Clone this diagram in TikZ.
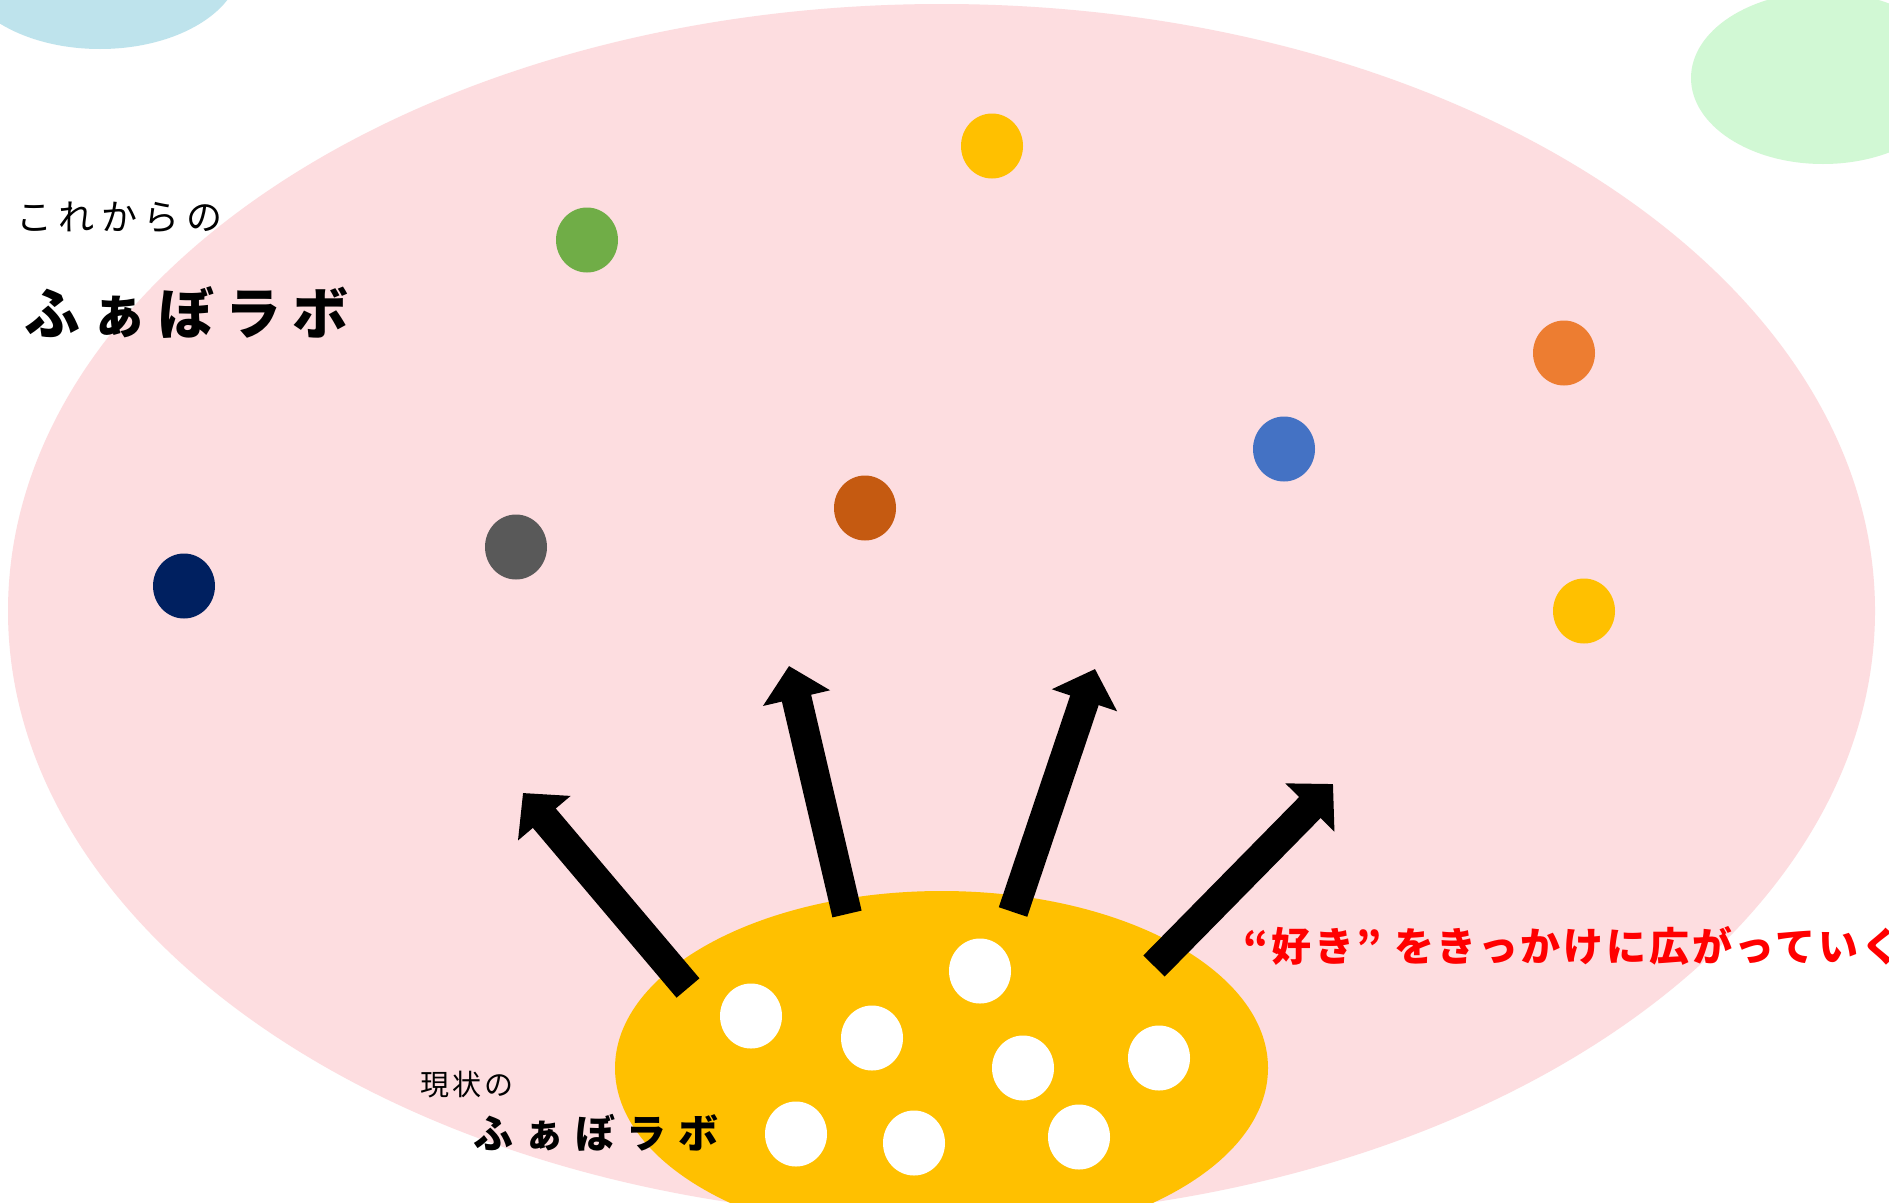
\documentclass[tikz,border=0pt]{standalone}
\usepackage{fontspec}
\newfontfamily\jp{Noto Sans CJK JP}
\usetikzlibrary{arrows.meta,shapes.geometric}
\definecolor{pinkbg}{HTML}{FDDDE0}
\definecolor{bluebg}{HTML}{BEE3EC}
\definecolor{greenbg}{HTML}{D1F8D4}
\definecolor{gold}{HTML}{FFC000}
\definecolor{leaf}{HTML}{70AD47}
\definecolor{orng}{HTML}{ED7D31}
\definecolor{sky}{HTML}{4472C4}
\definecolor{rust}{HTML}{C55A11}
\definecolor{slate}{HTML}{595959}
\definecolor{navy}{HTML}{002060}
\definecolor{redtxt}{HTML}{FF0000}
\begin{document}
\begin{tikzpicture}[x=1pt,y=-1pt,
  blob/.style={ellipse,draw=none,inner sep=0pt},
  dot/.style={blob,minimum width=62pt,minimum height=65pt},
  wdot/.style={dot,fill=white},
  bigarrow/.style={line width=30pt,-{Triangle[width=67pt,length=33pt]}},
  label/.style={anchor=west,inner sep=0pt,font=\jp}]
\useasboundingbox (0,0) rectangle (1889,1202);
\clip (0,0) rectangle (1889,1202);
\fill[white] (0,0) rectangle (1889,1202);
% background blobs
\node[blob,fill=bluebg,minimum width=282pt,minimum height=172pt] (blue) at (100,-37) {};
\node[blob,fill=greenbg,minimum width=264pt,minimum height=172pt] (green) at (1823,78) {};
\node[blob,fill=pinkbg,minimum width=1867pt,minimum height=1214pt] (future) at (941.5,611) {};
% coloured dots
\node[dot,fill=gold] (d1) at (992,146) {};
\node[dot,fill=leaf] (d2) at (587,240) {};
\node[dot,fill=orng] (d3) at (1564,353) {};
\node[dot,fill=sky] (d4) at (1284,449) {};
\node[dot,fill=rust] (d5) at (865,508) {};
\node[dot,fill=slate] (d6) at (516,547) {};
\node[dot,fill=navy] (d7) at (184,586) {};
\node[dot,fill=gold] (d8) at (1584,611) {};
% current lab
\node[blob,fill=gold,minimum width=653pt,minimum height=354pt] (now) at (941.5,1068) {};
\node[wdot] (w1) at (751,1016) {};
\node[wdot] (w2) at (872,1038) {};
\node[wdot] (w3) at (980,971) {};
\node[wdot] (w4) at (1023,1068) {};
\node[wdot] (w5) at (1159,1058) {};
\node[wdot] (w6) at (796,1134) {};
\node[wdot] (w7) at (914,1143) {};
\node[wdot] (w8) at (1079,1137) {};
% arrows
\coordinate (t1) at (688,988);  \coordinate (h1) at (523,793);
\coordinate (t2) at (847,914);  \coordinate (h2) at (789,666);
\coordinate (t3) at (1013,912); \coordinate (h3) at (1095,669);
\coordinate (t4) at (1154,966); \coordinate (h4) at (1333,784);
\draw[bigarrow] (t1) -- (h1);
\draw[bigarrow] (t2) -- (h2);
\draw[bigarrow] (t3) -- (h3);
\draw[bigarrow] (t4) -- (h4);
% texts
\node[label,font=\jp\fontsize{36}{40}\selectfont\addfontfeatures{LetterSpace=18}] (l1) at (16,217) {これからの};
\node[label,font=\jp\bfseries\fontsize{56}{60}\selectfont\addfontfeatures{LetterSpace=20}] (l2) at (24,313) {ふぁぼラボ};
\node[label,font=\jp\fontsize{29}{32}\selectfont\addfontfeatures{LetterSpace=10}] (l3) at (420,1085) {現状の};
\node[label,font=\jp\bfseries\fontsize{40}{44}\selectfont\addfontfeatures{LetterSpace=28}] (l4) at (473,1133) {ふぁぼラボ};
\node[label,text=redtxt,font=\jp\bfseries\fontsize{40}{44}\selectfont\addfontfeatures{LetterSpace=7}] (l5) at (1243,946) {“好き” をきっかけに広がっていく};
\end{tikzpicture}
\end{document}
